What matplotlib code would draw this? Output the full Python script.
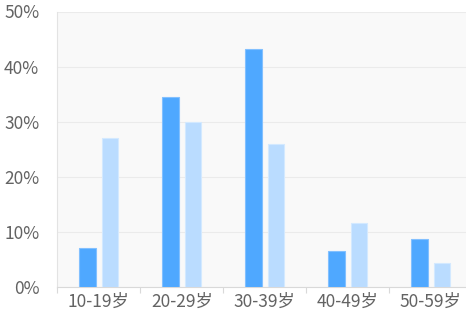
import matplotlib
matplotlib.use("Agg")
import matplotlib.pyplot as plt
import numpy as np

plt.rcParams['font.family'] = ['Noto Sans CJK SC', 'DejaVu Sans']

# data (percent)
categories = ['10-19岁', '20-29岁', '30-39岁', '40-49岁', '50-59岁']
series_a = [7.1, 34.4, 43.2, 6.6, 8.7]
series_b = [27.0, 30.0, 26.0, 11.7, 4.4]
y_ticks = [0, 10, 20, 30, 40, 50]

DARK = '#4fa8ff'
LIGHT = '#badcff'
TEXT = '#636363'

fig = plt.figure(figsize=(4.66, 3.10), dpi=100)
# axes runs a little past the right edge, like the original
ax = fig.add_axes([57.3 / 466, 23 / 310, 415 / 466, 275.5 / 310])
ax.set_facecolor('#f9f9f9')

x = np.arange(len(categories))
w = 0.2
ax.bar(x - 0.135, series_a, w, color=DARK, edgecolor='#82c0ff', linewidth=0.8, zorder=3)
ax.bar(x + 0.135, series_b, w, color=LIGHT, edgecolor='#d3e9ff', linewidth=0.8, zorder=3)

ax.set_xlim(-0.5, len(categories) - 0.5)
ax.set_ylim(0, 50)

ax.set_yticks(y_ticks)
ax.set_yticklabels([f'{v}%' for v in y_ticks], fontsize=12.5, color=TEXT)
ax.tick_params(axis='y', length=0, pad=13)

ax.set_xticks(x)
ax.set_xticklabels(categories, fontsize=12.5, color=TEXT)
ax.set_xticks(np.arange(-0.5, len(categories), 1), minor=True)
ax.tick_params(axis='x', which='major', length=0, pad=4)
ax.tick_params(axis='x', which='minor', length=4, color='#d9d9d9', width=0.8)

ax.grid(axis='y', color='#ebebeb', linewidth=0.8, zorder=0)
for s in ['top', 'right']:
    ax.spines[s].set_visible(False)
ax.spines['left'].set_color('#e3e3e3')
ax.spines['left'].set_linewidth(0.8)
ax.spines['bottom'].set_color('#d9d9d9')
ax.spines['bottom'].set_linewidth(0.8)

fig.savefig('out.png', dpi=100)
